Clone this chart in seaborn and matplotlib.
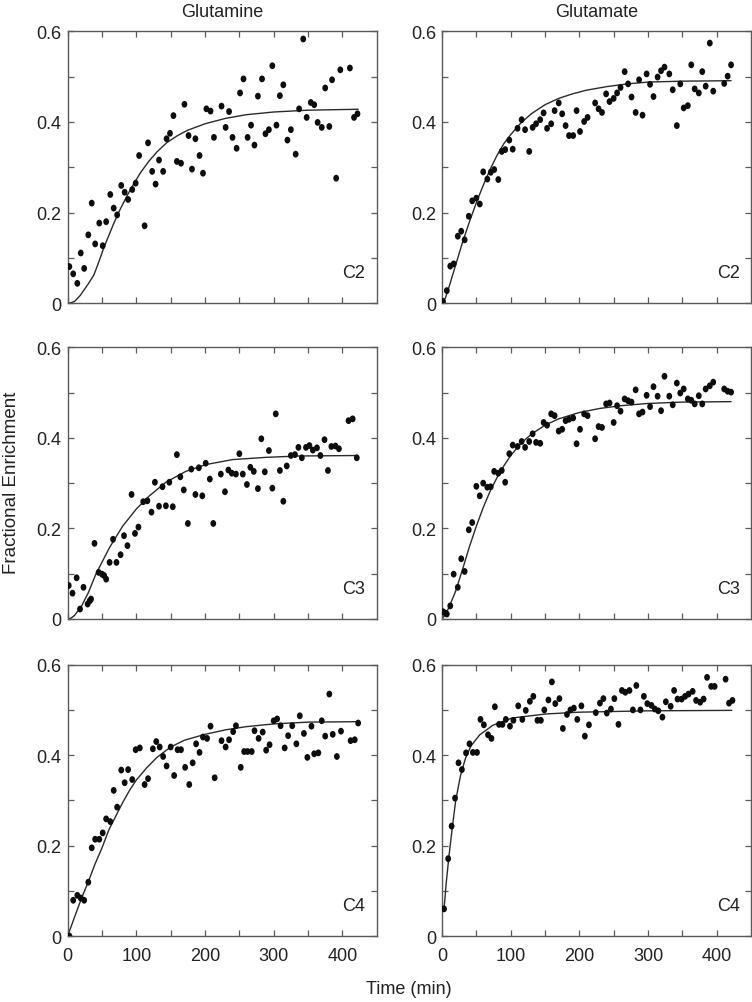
import numpy as np
import pandas as pd
import matplotlib
matplotlib.use("Agg")
import matplotlib.pyplot as plt
import seaborn as sns
from matplotlib.ticker import FixedLocator, FuncFormatter
from matplotlib.path import Path
from matplotlib.transforms import Affine2D
from matplotlib.markers import MarkerStyle

# ---------------- data ----------------
col_titles = ["Glutamine", "Glutamate"]
row_labels = ["C2", "C3", "C4"]
x_ticks = [0, 100, 200, 300, 400]
y_ticks = [0, 0.2, 0.4, 0.6]

# Glutamine C2
t_gln_c2 = [2.4, 8, 14, 19, 24, 30, 35, 40, 46, 51, 56, 62, 67, 72, 78, 83, 88, 94, 99, 104,
            112, 117, 123, 128, 133, 139, 144, 149, 154, 159, 165, 170, 176, 181, 186, 192, 197,
            202, 208, 213, 224, 230, 235, 240, 246, 251, 256, 262, 267, 272, 277, 283, 288, 293,
            298, 304, 309, 314, 320, 325, 332, 337, 343, 348, 354, 359, 364, 370, 375, 381, 385,
            391, 397, 411, 417, 422]
fe_gln_c2 = [0.081, 0.065, 0.044, 0.111, 0.077, 0.151, 0.221, 0.131, 0.177, 0.127, 0.180, 0.240,
             0.210, 0.195, 0.260, 0.245, 0.229, 0.251, 0.265, 0.326, 0.171, 0.354, 0.291, 0.263,
             0.316, 0.291, 0.363, 0.375, 0.414, 0.313, 0.309, 0.439, 0.370, 0.296, 0.363, 0.326,
             0.287, 0.429, 0.424, 0.366, 0.435, 0.388, 0.423, 0.366, 0.342, 0.464, 0.495, 0.366,
             0.393, 0.349, 0.457, 0.495, 0.374, 0.383, 0.524, 0.393, 0.458, 0.482, 0.360, 0.383,
             0.329, 0.429, 0.583, 0.410, 0.443, 0.438, 0.399, 0.388, 0.475, 0.390, 0.493, 0.276,
             0.515, 0.519, 0.410, 0.418]
fit_t_gln_c2 = [2, 10, 18, 25, 30, 38, 45, 52, 60, 67, 76, 86, 96, 106, 118, 130, 144, 160, 175,
                200, 230, 260, 300, 350, 423]
fit_gln_c2 = [0, 0.004, 0.017, 0.032, 0.043, 0.062, 0.090, 0.120, 0.150, 0.176, 0.206, 0.236,
              0.263, 0.288, 0.313, 0.334, 0.354, 0.370, 0.382, 0.396, 0.408, 0.416, 0.422, 0.426,
              0.428]

# Glutamate C2
t_glu_c2 = [1.5, 7, 12, 17, 23, 28, 33, 39, 44, 50, 55, 60, 66, 71, 76, 82, 87, 92, 98, 103,
            110, 116, 121, 127, 132, 137, 143, 148, 153, 159, 164, 170, 175, 180, 185, 191, 196,
            201, 207, 212, 223, 228, 233, 239, 244, 250, 255, 260, 266, 271, 276, 282, 287, 292,
            298, 303, 308, 314, 319, 324, 331, 336, 342, 347, 352, 358, 363, 368, 374, 379, 384,
            390, 395, 411, 416, 421]
fe_glu_c2 = [0.004, 0.028, 0.082, 0.087, 0.148, 0.159, 0.140, 0.192, 0.226, 0.232, 0.219, 0.290,
             0.274, 0.289, 0.295, 0.273, 0.335, 0.339, 0.360, 0.340, 0.386, 0.405, 0.383, 0.335,
             0.388, 0.396, 0.405, 0.420, 0.386, 0.396, 0.425, 0.442, 0.418, 0.392, 0.370, 0.370,
             0.425, 0.379, 0.401, 0.410, 0.442, 0.429, 0.421, 0.462, 0.445, 0.452, 0.464, 0.476,
             0.511, 0.484, 0.455, 0.421, 0.493, 0.415, 0.506, 0.483, 0.456, 0.499, 0.513, 0.521,
             0.506, 0.471, 0.392, 0.484, 0.431, 0.436, 0.526, 0.473, 0.464, 0.511, 0.479, 0.574,
             0.468, 0.485, 0.501, 0.526]
fit_t_glu_c2 = [0, 5, 10, 20, 30, 40, 50, 60, 70, 80, 90, 100, 115, 130, 150, 170, 190, 210, 240, 270, 300, 350, 421]
fit_glu_c2 = [0, 0.012, 0.035, 0.085, 0.135, 0.180, 0.222, 0.260, 0.295, 0.326, 0.352, 0.372,
              0.398, 0.418, 0.438, 0.452, 0.462, 0.470, 0.478, 0.484, 0.488, 0.490, 0.491]

# Glutamine C3
t_gln_c3 = [1.5, 7, 13, 18, 23, 29, 32, 34, 39, 45, 50, 53, 56, 61, 66, 71, 77, 82, 87, 93, 98,
            103, 110, 116, 122, 127, 133, 138, 143, 148, 153, 159, 164, 169, 175, 180, 186, 191,
            196, 201, 207, 212, 223, 229, 234, 239, 245, 250, 255, 261, 266, 271, 277, 282, 287,
            293, 298, 303, 309, 314, 319, 325, 331, 336, 341, 347, 352, 357, 363, 368, 374, 379,
            384, 390, 395, 409, 415, 421]
fe_gln_c3 = [0.074, 0.057, 0.091, 0.022, 0.070, 0.033, 0.040, 0.044, 0.167, 0.103, 0.099, 0.096,
             0.088, 0.125, 0.176, 0.125, 0.142, 0.184, 0.162, 0.275, 0.189, 0.203, 0.259, 0.261,
             0.236, 0.302, 0.249, 0.292, 0.250, 0.302, 0.248, 0.363, 0.314, 0.285, 0.211, 0.331,
             0.275, 0.334, 0.272, 0.344, 0.309, 0.211, 0.320, 0.281, 0.329, 0.322, 0.320, 0.365,
             0.320, 0.297, 0.335, 0.326, 0.288, 0.398, 0.325, 0.372, 0.289, 0.453, 0.328, 0.260,
             0.338, 0.361, 0.363, 0.379, 0.356, 0.379, 0.383, 0.373, 0.378, 0.361, 0.396, 0.328,
             0.381, 0.382, 0.376, 0.438, 0.442, 0.356]
fit_t_gln_c3 = [0, 5, 10, 20, 30, 41, 61, 80, 100, 119, 143, 172, 201, 240, 289, 337, 421]
fit_gln_c3 = [0, 0.002, 0.008, 0.028, 0.058, 0.099, 0.158, 0.205, 0.243, 0.272, 0.302, 0.326,
              0.341, 0.352, 0.357, 0.360, 0.361]

# Glutamate C3
t_glu_c3 = [1.5, 5, 7, 12, 17, 23, 28, 33, 39, 44, 50, 55, 60, 66, 71, 76, 82, 87, 92, 98, 103,
            110, 116, 121, 127, 132, 137, 143, 148, 153, 159, 164, 170, 175, 180, 185, 191, 196,
            201, 207, 212, 223, 228, 233, 239, 244, 250, 255, 260, 266, 271, 276, 282, 287, 292,
            298, 303, 308, 314, 319, 324, 331, 336, 342, 347, 352, 358, 363, 368, 374, 379, 384,
            390, 395, 411, 416, 421]
fe_glu_c3 = [0.016, 0.013, 0.011, 0.029, 0.099, 0.070, 0.133, 0.105, 0.197, 0.213, 0.293, 0.272,
             0.300, 0.291, 0.292, 0.326, 0.322, 0.328, 0.302, 0.365, 0.384, 0.381, 0.392, 0.379,
             0.392, 0.409, 0.390, 0.388, 0.434, 0.428, 0.453, 0.449, 0.415, 0.419, 0.438, 0.441,
             0.444, 0.387, 0.419, 0.453, 0.449, 0.398, 0.425, 0.423, 0.475, 0.477, 0.434, 0.471,
             0.459, 0.486, 0.482, 0.479, 0.506, 0.453, 0.457, 0.494, 0.469, 0.513, 0.492, 0.460,
             0.536, 0.492, 0.473, 0.521, 0.499, 0.508, 0.486, 0.483, 0.475, 0.493, 0.475, 0.508,
             0.515, 0.523, 0.508, 0.503, 0.501]
fit_t_glu_c3 = [0, 5, 10, 20, 30, 40, 50, 60, 70, 80, 90, 100, 115, 130, 150, 170, 200, 230, 260, 300, 350, 421]
fit_glu_c3 = [0, 0.010, 0.025, 0.062, 0.110, 0.160, 0.205, 0.246, 0.282, 0.312, 0.338, 0.361,
              0.388, 0.408, 0.428, 0.442, 0.456, 0.465, 0.471, 0.476, 0.479, 0.480]

# Glutamine C4
t_gln_c4 = [2.5, 8, 14, 19, 24, 30, 35, 40, 46, 51, 56, 62, 67, 72, 78, 83, 88, 94, 99, 105,
            112, 117, 124, 129, 134, 139, 144, 150, 155, 160, 165, 171, 177, 182, 187, 192, 197,
            203, 208, 214, 224, 230, 235, 241, 245, 252, 257, 262, 268, 272, 278, 284, 289, 294,
            300, 305, 310, 316, 321, 327, 333, 338, 344, 349, 355, 359, 365, 370, 375, 381, 386,
            392, 398, 412, 418, 423]
fe_gln_c4 = [0.000, 0.079, 0.090, 0.084, 0.079, 0.119, 0.195, 0.214, 0.214, 0.228, 0.259, 0.253,
             0.322, 0.285, 0.367, 0.339, 0.368, 0.346, 0.412, 0.416, 0.335, 0.348, 0.414, 0.430,
             0.418, 0.397, 0.376, 0.418, 0.355, 0.412, 0.412, 0.373, 0.335, 0.383, 0.425, 0.406,
             0.440, 0.437, 0.464, 0.350, 0.432, 0.418, 0.434, 0.452, 0.465, 0.373, 0.408, 0.408,
             0.408, 0.454, 0.437, 0.451, 0.411, 0.423, 0.476, 0.480, 0.465, 0.416, 0.443, 0.465,
             0.425, 0.487, 0.448, 0.395, 0.464, 0.403, 0.405, 0.476, 0.442, 0.535, 0.446, 0.397,
             0.453, 0.432, 0.434, 0.471]
fit_t_gln_c4 = [0, 10, 20, 30, 40, 50, 60, 70, 80, 90, 100, 115, 130, 150, 170, 200, 230, 260, 300, 350, 423]
fit_gln_c4 = [0, 0.042, 0.083, 0.120, 0.160, 0.195, 0.235, 0.265, 0.295, 0.322, 0.345, 0.372,
              0.395, 0.418, 0.433, 0.446, 0.456, 0.463, 0.469, 0.473, 0.474]

# Glutamate C4
t_glu_c4 = [3, 9, 14, 19, 24, 29, 35, 40, 45, 51, 56, 61, 67, 72, 77, 83, 88, 93, 99, 104,
            111, 117, 122, 128, 133, 139, 144, 149, 155, 160, 165, 171, 176, 182, 187, 192, 197,
            203, 208, 214, 224, 230, 235, 240, 246, 251, 257, 262, 267, 273, 278, 283, 289, 294,
            299, 305, 310, 315, 321, 326, 333, 338, 343, 349, 354, 359, 365, 370, 376, 381, 386,
            392, 397, 413, 418, 423]
fe_glu_c4 = [0.060, 0.171, 0.243, 0.305, 0.383, 0.368, 0.405, 0.425, 0.406, 0.406, 0.479, 0.467,
             0.445, 0.437, 0.507, 0.468, 0.468, 0.479, 0.464, 0.477, 0.509, 0.479, 0.499, 0.519,
             0.530, 0.477, 0.477, 0.500, 0.522, 0.562, 0.514, 0.525, 0.459, 0.490, 0.500, 0.504,
             0.479, 0.509, 0.442, 0.467, 0.494, 0.515, 0.525, 0.493, 0.502, 0.525, 0.468, 0.543,
             0.539, 0.543, 0.500, 0.554, 0.500, 0.530, 0.514, 0.510, 0.502, 0.498, 0.484, 0.518,
             0.508, 0.543, 0.524, 0.524, 0.530, 0.535, 0.541, 0.521, 0.517, 0.524, 0.572, 0.552,
             0.552, 0.568, 0.515, 0.521]
fit_t_glu_c4 = [3, 6, 10, 15, 20, 27, 34, 42, 55, 74, 102, 151, 200, 300, 422]
fit_glu_c4 = [0.06, 0.115, 0.175, 0.240, 0.300, 0.355, 0.392, 0.420, 0.445, 0.466, 0.482, 0.491,
              0.495, 0.498, 0.499]

panels = [
    [(t_gln_c2, fe_gln_c2, fit_t_gln_c2, fit_gln_c2), (t_glu_c2, fe_glu_c2, fit_t_glu_c2, fit_glu_c2)],
    [(t_gln_c3, fe_gln_c3, fit_t_gln_c3, fit_gln_c3), (t_glu_c3, fe_glu_c3, fit_t_glu_c3, fit_glu_c3)],
    [(t_gln_c4, fe_gln_c4, fit_t_gln_c4, fit_gln_c4), (t_glu_c4, fe_glu_c4, fit_t_glu_c4, fit_glu_c4)],
]

# ---------------- style ----------------
sns.set_theme(style="ticks")
plt.rcParams["font.family"] = ["Liberation Sans", "DejaVu Sans"]

W, H = 752, 1003
fig = plt.figure(figsize=(W / 100, H / 100), dpi=100)

lefts_px = [67.7, 442.0]
width_px = 309.0
rows_px = [(32.3, 304.3), (348.3, 620.0), (665.7, 937.0)]

frame_col = "#5a5a5a"
text_col = "#222222"

# slightly tall elliptical dot, as in the reference
dot = MarkerStyle(Path.unit_circle().transformed(Affine2D().scale(0.85, 1.0)))

for r, (top, bot) in enumerate(rows_px):
    for c, lx in enumerate(lefts_px):
        ax = fig.add_axes([lx / W, 1 - bot / H, width_px / W, (bot - top) / H])
        t, fe, ft, ff = panels[r][c]
        sns.lineplot(x=ft, y=ff, ax=ax, color="#2a2a2a", lw=1.0, sort=False,
                     estimator=None, zorder=2)
        sns.scatterplot(x=t, y=fe, ax=ax, color="#0d0d0d", s=24, marker=dot,
                        edgecolor="none", linewidth=0, zorder=3)
        ax.set_xlim(0, 450)
        ax.set_ylim(0, 0.6)
        ax.xaxis.set_major_locator(FixedLocator(x_ticks))
        ax.xaxis.set_minor_locator(FixedLocator([50, 150, 250, 350]))
        ax.yaxis.set_major_locator(FixedLocator(y_ticks))
        ax.yaxis.set_minor_locator(FixedLocator([0.1, 0.3, 0.5]))
        ax.yaxis.set_major_formatter(FuncFormatter(lambda v, p: "0" if v == 0 else f"{v:.1f}"))
        ax.tick_params(which="both", direction="in", top=True, right=True, length=4,
                       width=0.9, color=frame_col, labelsize=13, labelcolor=text_col)
        ax.tick_params(axis="y", which="both", pad=4.3)
        ax.tick_params(axis="x", which="both", pad=8)
        if r < 2:
            ax.tick_params(axis="x", labelbottom=False)
        for sp in ax.spines.values():
            sp.set_color(frame_col)
            sp.set_linewidth(1.0)
        ax.set_xlabel("")
        ax.set_ylabel("")
        ax.text(0.963, 0.097, row_labels[r], transform=ax.transAxes, ha="right",
                va="baseline", fontsize=13, color=text_col)
        if r == 0:
            ax.set_title(col_titles[c], fontsize=13, pad=11, color=text_col)

fig.text(12 / W, 1 - 483 / H, "Fractional Enrichment", rotation=90, ha="center",
         va="center", fontsize=13.5, color=text_col)
fig.text(409 / W, 1 - 990 / H, "Time (min)", ha="center", va="center", fontsize=13,
         color=text_col)

fig.savefig("out.png", dpi=100)
